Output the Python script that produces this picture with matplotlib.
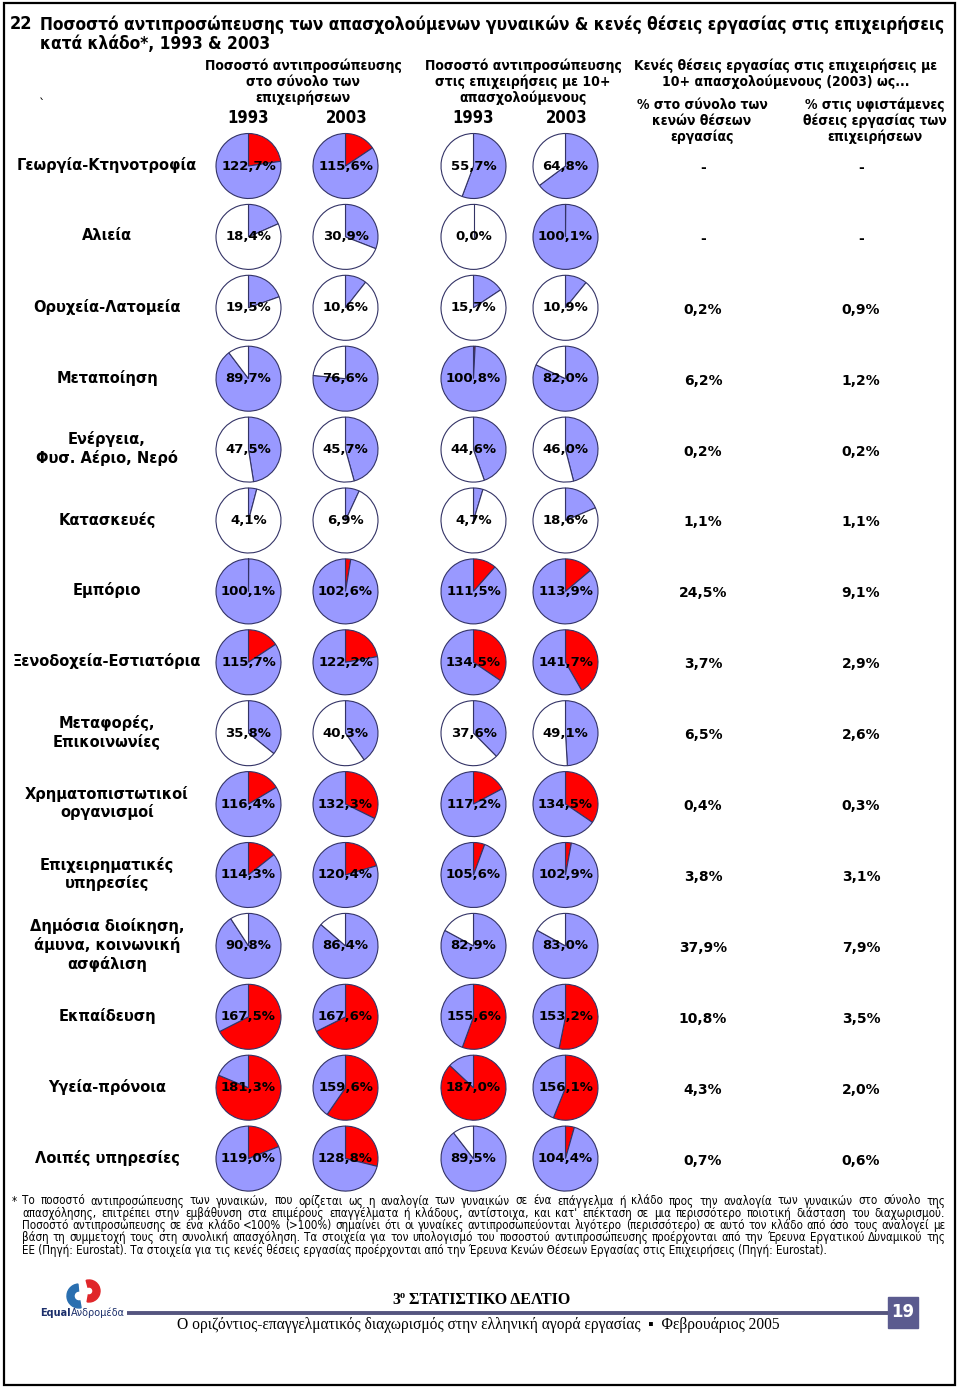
import numpy as np
import matplotlib
matplotlib.use('Agg')
import matplotlib.pyplot as plt
from matplotlib.patches import Rectangle, Wedge

# ---- data ----
sectors = ['Γεωργία-Κτηνοτροφία', 'Αλιεία', 'Ορυχεία-Λατομεία', 'Μεταποίηση',
           'Ενέργεια,\nΦυσ. Αέριο, Νερό', 'Κατασκευές', 'Εμπόριο',
           'Ξενοδοχεία-Εστιατόρια', 'Μεταφορές,\nΕπικοινωνίες',
           'Χρηματοπιστωτικοί\nοργανισμοί', 'Επιχειρηματικές\nυπηρεσίες',
           'Δημόσια διοίκηση,\nάμυνα, κοινωνική\nασφάλιση', 'Εκπαίδευση',
           'Υγεία-πρόνοια', 'Λοιπές υπηρεσίες']
all_1993 = [122.7, 18.4, 19.5, 89.7, 47.5, 4.1, 100.1, 115.7, 35.8, 116.4, 114.3, 90.8, 167.5, 181.3, 119.0]
all_2003 = [115.6, 30.9, 10.6, 76.6, 45.7, 6.9, 102.6, 122.2, 40.3, 132.3, 120.4, 86.4, 167.6, 159.6, 128.8]
big_1993 = [55.7, 0.0, 15.7, 100.8, 44.6, 4.7, 111.5, 134.5, 37.6, 117.2, 105.6, 82.9, 155.6, 187.0, 89.5]
big_2003 = [64.8, 100.1, 10.9, 82.0, 46.0, 18.6, 113.9, 141.7, 49.1, 134.5, 102.9, 83.0, 153.2, 156.1, 104.4]
vac_share = [None, None, 0.2, 6.2, 0.2, 1.1, 24.5, 3.7, 6.5, 0.4, 3.8, 37.9, 10.8, 4.3, 0.7]
vac_rate = [None, None, 0.9, 1.2, 0.2, 1.1, 9.1, 2.9, 2.6, 0.3, 3.1, 7.9, 3.5, 2.0, 0.6]

BLUE = '#9999ff'
RED = '#ff0000'
EDGE = '#333366'
W, H = 960, 1390

fig = plt.figure(figsize=(9.6, 13.9), dpi=100)
ax = fig.add_axes([0, 0, 1, 1])
ax.set_xlim(0, W)
ax.set_ylim(0, H)

def Y(py):
    return H - py

def fmt(v):
    return ('%.1f%%' % v).replace('.', ',')

BOLD = dict(family='DejaVu Sans', fontweight='bold')
COND = dict(family='DejaVu Sans', fontweight='bold', fontstretch='condensed')

# page frame
ax.add_patch(Rectangle((4, Y(1385)), 951, 1382, fill=False, ec='black', lw=1.6))

# title
ax.text(10, Y(24), '22', fontsize=13, va='center', ha='left', **COND)
ax.text(40, Y(25), 'Ποσοστό αντιπροσώπευσης των απασχολούμενων γυναικών & κενές θέσεις εργασίας στις επιχειρήσεις',
        fontsize=12.4, va='center', ha='left', **COND)
ax.text(40, Y(44), 'κατά κλάδο*, 1993 & 2003', fontsize=12.4, va='center', ha='left', **COND)
ax.text(42, Y(104), '`', fontsize=9, va='center', ha='center')

# column headers
heads = [(303, 66, ['Ποσοστό αντιπροσώπευσης', 'στο σύνολο των', 'επιχειρήσεων']),
         (523, 66, ['Ποσοστό αντιπροσώπευσης', 'στις επιχειρήσεις με 10+', 'απασχολούμενους']),
         (786, 66, ['Κενές θέσεις εργασίας στις επιχειρήσεις με', '10+ απασχολούμενους (2003) ως...']),
         (702, 105, ['% στο σύνολο των', 'κενών θέσεων', 'εργασίας']),
         (875, 105, ['% στις υφιστάμενες', 'θέσεις εργασίας των', 'επιχειρήσεων'])]
for hx, hy, lines in heads:
    for k, s in enumerate(lines):
        ax.text(hx, Y(hy + 16 * k), s, fontsize=10, ha='center', va='center', **COND)
for yx, yr in [(248, '1993'), (347, '2003'), (473, '1993'), (567, '2003')]:
    ax.text(yx, Y(118), yr, fontsize=12, ha='center', va='center', **COND)

# rows of pies
pie_x = [248.5, 345.5, 473.5, 565.5]
series = [all_1993, all_2003, big_1993, big_2003]
for i, name in enumerate(sectors):
    cy = 166 + 70.9 * i
    ax.text(107, Y(cy - 1), name, fontsize=10.5, ha='center', va='center',
            multialignment='center', linespacing=1.2, **BOLD)
    for px, ser in zip(pie_x, series):
        v = ser[i]
        if v > 100:
            vals, cols = [v - 100, 200 - v], [RED, BLUE]
        else:
            vals, cols = [v, 100 - v], [BLUE, 'white']
        ax.pie(vals, colors=cols, startangle=90, counterclock=False,
               center=(px, Y(cy)), radius=32.5, frame=True,
               wedgeprops=dict(edgecolor=EDGE, linewidth=0.8))
        if v == 0:
            # empty share still shows the start radius in the reference
            ax.plot([px, px], [Y(cy), Y(cy) + 32.5], color=EDGE, lw=0.8)
        ax.text(px, Y(cy), fmt(v), fontsize=9.5, ha='center', va='center', **BOLD)
    for vx, v in [(703, vac_share[i]), (861, vac_rate[i])]:
        ax.text(vx, Y(cy + 2), '-' if v is None else fmt(v), fontsize=10,
                ha='center', va='center', **BOLD)

ax.set_xlim(0, W)
ax.set_ylim(0, H)

# footnote (justified lines)
note = ['Το ποσοστό αντιπροσώπευσης των γυναικών, που ορίζεται ως η αναλογία των γυναικών σε ένα επάγγελμα ή κλάδο προς την αναλογία των γυναικών στο σύνολο της',
        'απασχόλησης, επιτρέπει στην εμβάθυνση στα επιμέρους επαγγέλματα ή κλάδους, αντίστοιχα, και κατ\' επέκταση σε μια περισσότερο ποιοτική διάσταση του διαχωρισμού.',
        'Ποσοστό αντιπροσώπευσης σε ένα κλάδο <100% (>100%) σημαίνει ότι οι γυναίκες αντιπροσωπεύονται λιγότερο (περισσότερο) σε αυτό τον κλάδο από όσο τους αναλογεί με',
        'βάση τη συμμετοχή τους στη συνολική απασχόληση. Τα στοιχεία για τον υπολογισμό του ποσοστού αντιπροσώπευσης προέρχονται από την Έρευνα Εργατικού Δυναμικού της',
        'ΕΕ (Πηγή: Eurostat). Τα στοιχεία για τις κενές θέσεις εργασίας προέρχονται από την Έρευνα Κενών Θέσεων Εργασίας στις Επιχειρήσεις (Πηγή: Eurostat).']
NOTE = dict(family='DejaVu Sans', fontstretch='condensed', fontsize=8.3)
r = fig.canvas.get_renderer()
ax.text(12, Y(1201), '*', ha='left', va='center', **NOTE)
x0, x1 = 22, 945
for k, line in enumerate(note):
    ly = Y(1201 + 12.3 * k)
    if k == len(note) - 1:
        ax.text(x0, ly, line, ha='left', va='center', **NOTE)
        continue
    words = line.split(' ')
    ts = [ax.text(0, ly, w_, ha='left', va='center', **NOTE) for w_ in words]
    widths = [t.get_window_extent(r).width for t in ts]
    gap = (x1 - x0 - sum(widths)) / (len(words) - 1)
    xx = x0
    for t, wd in zip(ts, widths):
        t.set_x(xx)
        xx += wd + gap

# footer
ax.plot([127, 888], [Y(1313), Y(1313)], color='#55557f', lw=2.8, solid_capstyle='butt')
ax.add_patch(Rectangle((888, Y(1328)), 30, 31, color='#5b5b8f'))
ax.text(903, Y(1312), '19', color='white', fontsize=12, ha='center', va='center', **BOLD)
SERIF = ['Liberation Serif', 'DejaVu Serif']
ax.text(392, Y(1300), '3', family=SERIF, fontweight='bold', fontsize=11.5, ha='left', va='center')
ax.text(399.5, Y(1296), 'ο', family=SERIF, fontweight='bold', fontsize=7.5, ha='left', va='center')
ax.text(409, Y(1300), 'ΣΤΑΤΙΣΤΙΚΟ ΔΕΛΤΙΟ', family=SERIF, fontweight='bold', fontsize=11.5,
        ha='left', va='center')
ax.text(478, Y(1325), 'Ο οριζόντιος-επαγγελματικός διαχωρισμός στην ελληνική αγορά εργασίας  ▪  Φεβρουάριος 2005',
        family=SERIF + ['DejaVu Sans'], fontsize=11.2, ha='center', va='center')

# logo
ax.add_patch(Wedge((79, Y(1296)), 12, 95, 280, width=7, color='#2a6fb0'))
ax.add_patch(Wedge((89, Y(1291)), 11, -100, 105, width=7, color='#e0262a'))
t_eq = ax.text(40, Y(1313), 'Equal', fontsize=7.0, fontweight='bold', color='#1c2f6b',
               ha='left', va='center')
ax.text(40 + t_eq.get_window_extent(r).width, Y(1313), 'Ανδρομέδα', fontsize=7.0,
        color='#1c2f6b', ha='left', va='center')

ax.set_xlim(0, W)
ax.set_ylim(0, H)
ax.set_aspect('auto')
ax.axis('off')
fig.savefig('out.png', dpi=100)
